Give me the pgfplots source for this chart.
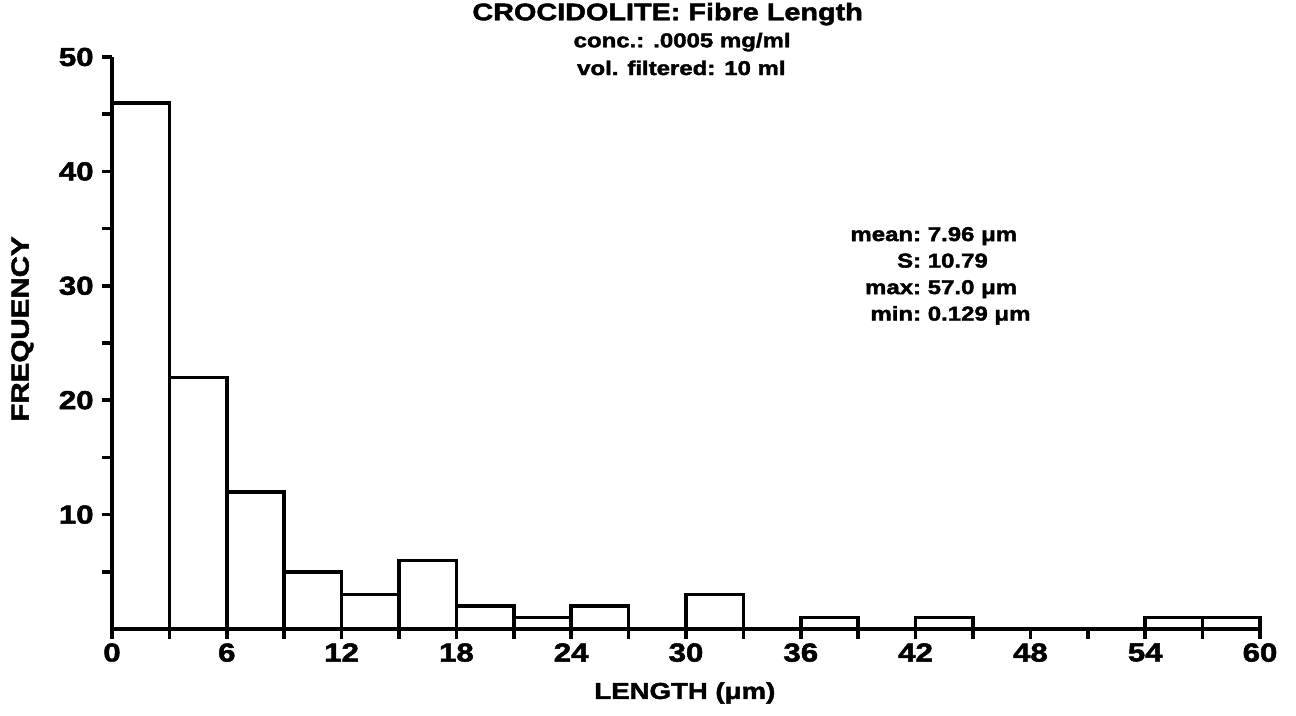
\documentclass[border=0pt]{standalone}
\usepackage{fontspec}
\setmainfont{Liberation Sans Bold}[FakeStretch=1.2, FakeBold=2]
\usepackage{pgfplots}
\pgfplotsset{compat=1.18}

% fibre-length histogram: left bin edges (um) and counts, last row closes the interval
\begin{document}
\begin{tikzpicture}
\path[use as bounding box] (-56pt,-43.5pt) rectangle (592pt,314.5pt);
\begin{axis}[
  at={(0,0)}, anchor=origin,
  scale only axis, width=574pt, height=286pt,
  xmin=0, xmax=60, ymin=0, ymax=50,
  axis x line*=bottom, axis y line*=left,
  axis line style={line width=2pt, -},
  clip=false,
  tick align=outside,
  major tick length=5pt, minor tick length=5pt,
  tick style={line width=1.8pt, black},
  xtick={0,6,...,60}, minor xtick={3,9,...,57},
  ytick={10,20,...,50}, minor ytick={5,15,...,45},
  /pgf/number format/assume math mode=true,
  ticklabel style={font=\fontsize{13}{13}\selectfont, inner sep=0pt},
  xticklabel style={yshift=-2pt},
  yticklabel style={xshift=-4pt},
  every axis x label/.style={at={(axis description cs:0.499,-0.1119)}, anchor=center,
    font=\fontsize{11.5}{11.5}\selectfont},
  every axis y label/.style={at={(axis description cs:-0.078,0.5245)}, anchor=center, rotate=90,
    font=\fontsize{12.3}{12.3}\selectfont},
  xlabel={LENGTH (μm)},
  ylabel={FREQUENCY},
]
\addplot[ybar interval, draw=black, fill=white, line width=1.8pt] coordinates {
  (0,46) (3,22) (6,12) (9,5) (12,3) (15,6) (18,2) (21,1) (24,2) (27,0)
  (30,3) (33,0) (36,1) (39,0) (42,1) (45,0) (48,0) (51,0) (54,1) (57,1) (60,1)
};
\node[font=\fontsize{12}{12}\selectfont, anchor=center] at (rel axis cs:0.484,1.075) {CROCIDOLITE: Fibre Length};
\node[font=\fontsize{10}{10}\selectfont, anchor=west] at (rel axis cs:0.3960,1.026) {conc.: .0005 mg/ml};
\node[font=\fontsize{10}{10}\selectfont, anchor=west] at (rel axis cs:0.3990,0.981) {vol. filtered: 10 ml};
\node[font=\fontsize{10}{13.25}\selectfont, anchor=center, inner sep=0pt] at (axis cs:43.3,30.9) {%
  \begin{tabular}{@{}r@{\ }l@{}}
  mean: & 7.96 μm\\
  S: & 10.79\\
  max: & 57.0 μm\\
  min: & 0.129 μm
  \end{tabular}};
\end{axis}
\end{tikzpicture}
\end{document}
